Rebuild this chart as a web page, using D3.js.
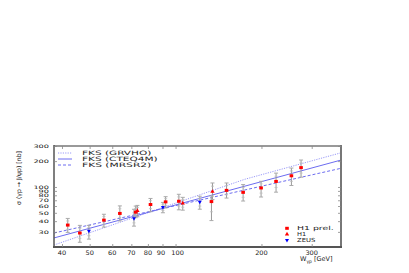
<!DOCTYPE html>
<html><head><meta charset="utf-8">
<script src="https://cdn.jsdelivr.net/npm/d3@7"></script>
<style>body{margin:0;background:#fff}svg{display:block}text{font-family:"DejaVu Sans",sans-serif}</style>
</head><body><svg id="c" width="409" height="273"></svg>
<script>
// ---- data ----
const h1prelW  = [41.9, 46.2, 56.1, 63.8, 72.5, 81.7, 92.3, 102.7, 133.6, 150.9, 172.5, 199.4, 225, 254.7, 275.3];
const h1prelS  = [36, 29.1, 41.1, 49.2, 50.9, 62.5, 67.1, 68.2, 67.6, 91.3, 86.6, 97.4, 116, 135, 168];
const h1prelLo = [6.4, 6.4, 7, 9, 7, 11, 10, 14, 27, 17, 18, 21, 29, 31, 38];
const h1prelHi = [7, 6.6, 7, 11, 9, 11, 10, 14, 11, 20, 20, 19, 29, 31, 38];
const h1W  = [73.5, 106, 134.7];
const h1S  = [53, 64.7, 88.3];
const h1Lo = [8, 11, 17];
const h1Hi = [8, 11, 23];
const zeusW  = [49.7, 71.5, 90.3, 121.6];
const zeusS  = [30.7, 43, 58.1, 67.1];
const zeusLo = [6, 8, 8, 12];
const zeusHi = [5, 12, 8, 11];
const curveW = [37.5, 175, 380];
const grvhoS = [21.1, 123, 250];
const cteqS  = [25.5, 102.3, 205.8];
const mrsrS  = [29.1, 92.3, 165];
const xTicks = [40, 50, 60, 70, 80, 90, 100, 200, 300];
const xTickLabels = ["40", "50", "60", "70", "80", "90", "100", "200", "300"];
const yTicks = [30, 40, 50, 60, 70, 80, 90, 100, 200, 300];
const yTickLabels = ["30", "40", "50", "60", "70", "80", "90", "100", "200", "300"];
const legendCurves = ["FKS (GRVHO)", "FKS (CTEQ4M)", "FKS (MRSR2)"];
const legendData = ["H1 prel.", "H1", "ZEUS"];

// ---- scales ----
const L = 54, R = 341, T = 146, B = 247;
const x = d3.scaleLog().domain([37.5, 380]).range([L, R]);
const y = d3.scaleLog().domain([20, 300]).range([B, T]);
const svg = d3.select("#c");
svg.append("rect").attr("width", 409).attr("height", 273).attr("fill", "#fff");

// curves
const lineBlue = "#6c6cf0";
const curves = [
  {s: grvhoS, dash: "1.2,1.2", col: "#9a9af8", w: 1},
  {s: cteqS, dash: null, col: lineBlue, w: 1},
  {s: mrsrS, dash: "3,2", col: lineBlue, w: 1}
];
const ln = d3.line().x(d => x(d[0])).y(d => y(d[1]));
svg.append("clipPath").attr("id", "cp").append("rect")
  .attr("x", L).attr("y", T).attr("width", R - L).attr("height", B - T);
const g = svg.append("g").attr("clip-path", "url(#cp)");
curves.forEach(c => {
  g.append("path").attr("d", ln(curveW.map((w, i) => [w, c.s[i]])))
    .attr("fill", "none").attr("stroke", c.col).attr("stroke-width", c.w)
    .attr("stroke-dasharray", c.dash);
});

// error bars
function errs(W, S, Lo, Hi) {
  W.forEach((w, i) => {
    const cx = x(w), y0 = y(S[i] - Lo[i]), y1 = y(S[i] + Hi[i]);
    g.append("line").attr("x1", cx).attr("x2", cx).attr("y1", y0).attr("y2", y1)
      .attr("stroke", "#999").attr("stroke-width", 1);
    [y0, y1].forEach(yy => g.append("line").attr("x1", cx - 2).attr("x2", cx + 2)
      .attr("y1", yy).attr("y2", yy).attr("stroke", "#aaa").attr("stroke-width", 1));
    const yi0 = y(S[i] - Lo[i] * 0.6), yi1 = y(S[i] + Hi[i] * 0.6);
    [yi0, yi1].forEach(yy => g.append("line").attr("x1", cx - 1.5).attr("x2", cx + 1.5)
      .attr("y1", yy).attr("y2", yy).attr("stroke", "#bbb").attr("stroke-width", 0.8));
  });
}
errs(h1prelW, h1prelS, h1prelLo, h1prelHi);
errs(h1W, h1S, h1Lo, h1Hi);
errs(zeusW, zeusS, zeusLo, zeusHi);

const triUp = d3.symbol().type(d3.symbolTriangle).size(8);
const triDown = d3.symbol().type(d3.symbolTriangle).size(7);
h1prelW.forEach((w, i) => g.append("rect").attr("x", x(w) - 1.8).attr("y", y(h1prelS[i]) - 1.5)
  .attr("width", 3.6).attr("height", 3).attr("fill", "#ff0000"));
h1W.forEach((w, i) => g.append("path").attr("d", triUp())
  .attr("transform", `translate(${x(w)},${y(h1S[i])})`).attr("fill", "#ff0000"));
zeusW.forEach((w, i) => g.append("path").attr("d", triDown())
  .attr("transform", `translate(${x(w)},${y(zeusS[i])}) rotate(180)`).attr("fill", "#0000ff"));

// frame
svg.append("line").attr("x1", L).attr("x2", R).attr("y1", T).attr("y2", T).attr("stroke", "#999").attr("stroke-width", 2);
svg.append("line").attr("x1", R).attr("x2", R).attr("y1", T - 1).attr("y2", B + 1).attr("stroke", "#777").attr("stroke-width", 2);
svg.append("line").attr("x1", L).attr("x2", L).attr("y1", T - 1).attr("y2", B + 1).attr("stroke", "#555").attr("stroke-width", 1.5);
svg.append("line").attr("x1", L - 1).attr("x2", R + 1).attr("y1", B).attr("y2", B).attr("stroke", "#555").attr("stroke-width", 2);

// axes via d3 axis generators (inward ticks)
const tickCol = "#888";
const xb = d3.axisBottom(x).tickValues(xTicks).tickSizeInner(-3).tickSizeOuter(0).tickFormat("");
const xt = d3.axisTop(x).tickValues(xTicks).tickSizeInner(-3).tickSizeOuter(0).tickFormat("");
const yl = d3.axisLeft(y).tickValues(yTicks).tickSizeInner(-3).tickSizeOuter(0).tickFormat("");
const yr = d3.axisRight(y).tickValues(yTicks).tickSizeInner(-3).tickSizeOuter(0).tickFormat("");
[[xb, `translate(0,${B})`], [xt, `translate(0,${T})`], [yl, `translate(${L},0)`], [yr, `translate(${R},0)`]].forEach(([a, t]) => {
  const ga = svg.append("g").attr("transform", t).call(a);
  ga.select(".domain").remove();
  ga.selectAll("line").attr("stroke", tickCol).attr("stroke-width", 0.8);
});

// tick labels
const lab = svg.append("g").attr("font-size", 6.2).attr("fill", "#222");
xTicks.forEach((v, i) => {
  let dx = 0;
  if (v === 90) dx = -1.5;
  if (v === 100) dx = 2;
  lab.append("text").attr("x", x(v) + dx).attr("y", 254.5).attr("text-anchor", "middle")
    .attr("textLength", xTickLabels[i].length * 4.2).attr("lengthAdjust", "spacingAndGlyphs")
    .text(xTickLabels[i]);
});
yTicks.forEach((v, i) => {
  lab.append("text").attr("x", 49).attr("y", y(v) + 1.7).attr("text-anchor", "end")
    .attr("textLength", yTickLabels[i].length * 5.2).attr("lengthAdjust", "spacingAndGlyphs")
    .attr("font-size", 4.6).text(yTickLabels[i]);
});

// axis titles
svg.append("text").attr("x", 300).attr("y", 261).attr("font-size", 6.5).attr("fill", "#222")
  .html('W<tspan font-size="4.5" dy="1.5">γp</tspan><tspan dy="-1.5"> [GeV]</tspan>');
svg.append("text").attr("transform", "translate(21,178) rotate(-90)").attr("text-anchor", "middle")
  .attr("font-size", 6.3).attr("fill", "#222").attr("textLength", 54).attr("lengthAdjust", "spacingAndGlyphs")
  .text("σ (γp → J/ψp) [nb]");

// legend curves
legendCurves.forEach((t, i) => {
  const yy = 153 + i * 6;
  const c = curves[i];
  svg.append("line").attr("x1", 58).attr("x2", 72).attr("y1", yy).attr("y2", yy)
    .attr("stroke", c.col).attr("stroke-width", 1).attr("stroke-dasharray", c.dash);
  svg.append("text").attr("x", 82).attr("y", yy + 2.1).attr("font-size", 6).attr("fill", "#222")
    .attr("textLength", t.length * 6.3).attr("lengthAdjust", "spacingAndGlyphs").text(t);
});
// legend data
legendData.forEach((t, i) => {
  const yy = 228.3 + i * 5.9;
  const mx = 287;
  if (i === 0) svg.append("rect").attr("x", mx - 1.8).attr("y", yy - 1.5).attr("width", 3.6).attr("height", 3).attr("fill", "#ff0000");
  if (i === 1) svg.append("path").attr("d", triUp()).attr("transform", `translate(${mx},${yy})`).attr("fill", "#ff0000");
  if (i === 2) svg.append("path").attr("d", triDown()).attr("transform", `translate(${mx},${yy}) rotate(180)`).attr("fill", "#0000ff");
  svg.append("text").attr("x", 297).attr("y", yy + 2).attr("font-size", 5.6).attr("fill", "#222")
    .attr("textLength", t.length * 4.6).attr("lengthAdjust", "spacingAndGlyphs").text(t);
});
</script></body></html>
